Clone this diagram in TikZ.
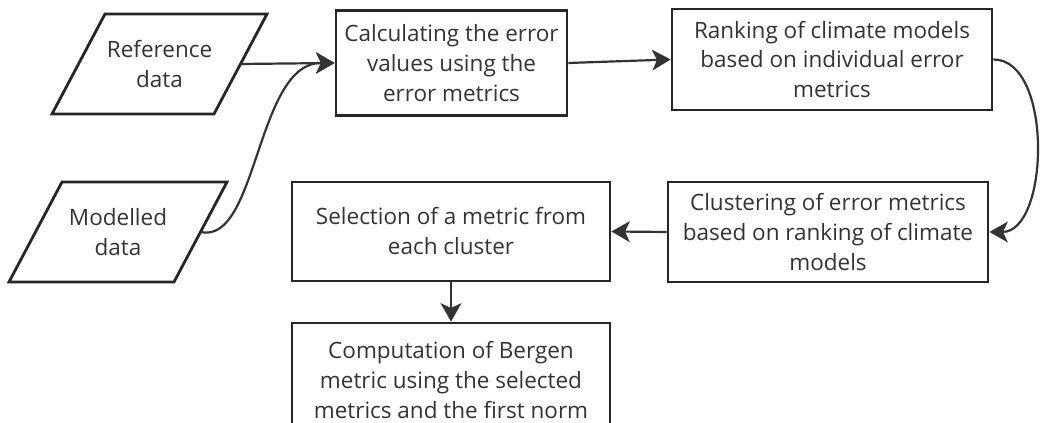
\documentclass[tikz,border=0pt]{standalone}
\usepackage{fontspec}
\setmainfont{Open Sans}
\usetikzlibrary{arrows.meta}
\definecolor{ink}{HTML}{262626}
\definecolor{txt}{HTML}{333333}
\tikzset{process/.style={draw=ink,line width=0.07cm,font=\fontsize{16}{21.3}\selectfont,text=txt,align=center,inner sep=0.1cm},
io text/.style={font=\fontsize{16}{21.3}\selectfont,text=txt,align=center,inner sep=0cm},
io box/.style={draw=ink,line width=0.07cm,line join=miter},
arrow line/.style={draw=txt,line width=0.055cm,-{Stealth[length=0.46cm,width=0.52cm,inset=0.12cm]}}}

\begin{document}
\begin{tikzpicture}
\useasboundingbox (0,0) rectangle (26,10.575);
\clip (0,0) rectangle (26,10.575);

%% Coordinates of the data shapes.
\coordinate (r1) at (2.625,10.225);
\coordinate (r2) at (6.675,10.225);
\coordinate (r3) at (5.350,7.725);
\coordinate (r4) at (1.300,7.725);
\coordinate (refout) at (6.013,8.975);
\coordinate (m1) at (1.550,6.025);
\coordinate (m2) at (5.675,6.025);
\coordinate (m3) at (4.350,3.525);
\coordinate (m4) at (0.225,3.525);
\coordinate (modout) at (5.013,4.775);

%% data shapes
\draw [io box] (r1) -- (r2) -- (r3) -- (r4) -- cycle;
\draw [io box] (m1) -- (m2) -- (m3) -- (m4) -- cycle;
\node [io text] (ref) at (3.988,8.975) {Reference\\data};
\node [io text] (mod) at (2.950,4.775) {Modelled\\data};

%% process boxes
\node [process,minimum width=5.775cm,minimum height=2.625cm] (calc) at (11.288,9.000) {Calculating the error\\values using the\\error metrics};
\node [process,minimum width=8.000cm,minimum height=2.525cm] (rank) at (20.800,9.088) {Ranking of climate models\\based on individual error\\metrics};
\node [process,minimum width=8.000cm,minimum height=2.500cm] (clus) at (20.700,4.775) {Clustering of error metrics\\based on ranking of climate\\models};
\node [process,minimum width=7.950cm,minimum height=2.475cm] (sel) at (11.275,4.788) {Selection of a metric from\\each cluster};
\node [process,minimum width=7.950cm,minimum height=2.850cm] (comp) at (11.275,1.075) {Computation of Bergen\\metric using the selected\\metrics and the first norm};

%% connectors
\draw [arrow line] (refout) -- (calc.west);
\draw [arrow line] (modout) .. controls (6.450,4.450) and (6.400,9.025) .. (calc.west);
\draw [arrow line] (calc.east) -- (rank.west);
\draw [arrow line] (rank.east) .. controls +(1.5,0) and +(1.5,0) .. (clus.east);
\draw [arrow line] (clus.west) -- (sel.east);
\draw [arrow line] (sel.south) -- (comp.north);

\end{tikzpicture}
\end{document}
